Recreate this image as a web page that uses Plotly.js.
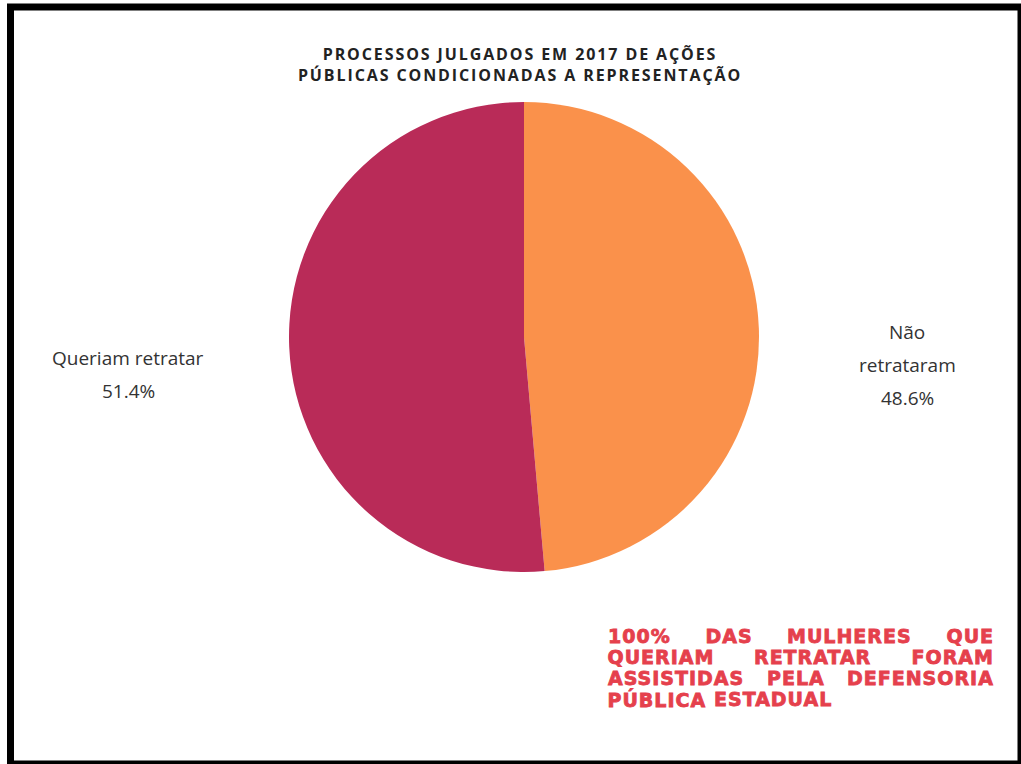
<!DOCTYPE html>
<html><head><meta charset="utf-8">
<script src="https://cdn.plot.ly/plotly-3.0.1.min.js"></script>
<style>html,body{margin:0;padding:0;background:#fff}#chart{width:1021px;height:764px}
.gtitle{letter-spacing:1.9px}
g.annotation text[style*="229, 64, 76"]{stroke:#E5404C;stroke-width:0.8px;letter-spacing:1px}</style>
</head><body><div id="chart"></div><script>
const categories = ["Não retrataram", "Queriam retratar"];
const values = [48.6, 51.4];
const labelLines = [["Não", "retrataram"], ["Queriam retratar"]];
const sliceColors = ["#FA914B", "#B92B58"];
const titleLines = ["PROCESSOS JULGADOS EM 2017 DE AÇÕES", "PÚBLICAS CONDICIONADAS A REPRESENTAÇÃO"];
const noteLines = ["100% DAS MULHERES QUE", "QUERIAM RETRATAR FORAM", "ASSISTIDAS PELA DEFENSORIA", "PÚBLICA ESTADUAL"];

const W = 1021, H = 764;
const px = x => x / W, py = y => 1 - y / H;

const annotations = [];
// slice labels
const labelCX = [907, 128];
const labelTop = [332, 358];
const labelGap = 33;
categories.forEach((c, i) => {
  const lines = labelLines[i].concat([values[i].toFixed(1) + '%']);
  lines.forEach((t, k) => {
    annotations.push({text: t, xref: 'paper', yref: 'paper', x: px(labelCX[i]), y: py(labelTop[i] + k * labelGap),
      xanchor: 'center', yanchor: 'middle', showarrow: false,
      font: {family: 'Open Sans, sans-serif', size: 19, color: '#333'}});
  });
});

// justified red note
const noteFont = {family: 'DejaVu Sans', size: 19, weight: 700, color: '#E5404C'};
const ctx = document.createElement('canvas').getContext('2d');
ctx.font = "bold 19px 'DejaVu Sans'";
ctx.letterSpacing = '1px';
const noteLeft = 608, noteRight = 994, noteTop = 636, noteGap = 21;
noteLines.forEach((line, li) => {
  const words = line.split(' ');
  const widths = words.map(w => ctx.measureText(w).width);
  const total = widths.reduce((a, b) => a + b, 0);
  const last = li === noteLines.length - 1;
  const gap = last ? ctx.measureText(' ').width : (noteRight - noteLeft - total) / (words.length - 1);
  let x = noteLeft;
  words.forEach((w, wi) => {
    annotations.push({text: w, xref: 'paper', yref: 'paper', x: px(x + widths[wi] / 2), y: py(noteTop + li * noteGap),
      xanchor: 'center', yanchor: 'middle', showarrow: false, borderpad: 0, font: noteFont});
    x += widths[wi] + gap;
  });
});

const data = [{
  type: 'pie', labels: categories, values: values, sort: false, direction: 'clockwise', rotation: 0,
  marker: {colors: sliceColors, line: {width: 0}}, textinfo: 'none', hoverinfo: 'label+percent',
  domain: {x: [px(288), px(760)], y: [py(572), py(102)]}, showlegend: false
}];

const layout = {
  width: W, height: H, margin: {l: 0, r: 0, t: 0, b: 0}, paper_bgcolor: '#fff', plot_bgcolor: '#fff',
  showlegend: false,
  title: {text: titleLines.join('<br>'), x: px(520), xanchor: 'center', y: py(60), yanchor: 'top', xref: 'paper', yref: 'container',
    font: {family: 'Open Sans, sans-serif', size: 16, weight: 700, color: '#222'}},
  annotations: annotations,
  shapes: [{type: 'rect', xref: 'paper', yref: 'paper', x0: px(10.5), x1: px(1021), y0: py(764), y1: py(7), line: {color: '#000', width: 7}, fillcolor: 'rgba(0,0,0,0)'}]
};
Plotly.newPlot('chart', data, layout, {displayModeBar: false, staticPlot: true});
</script></body></html>
